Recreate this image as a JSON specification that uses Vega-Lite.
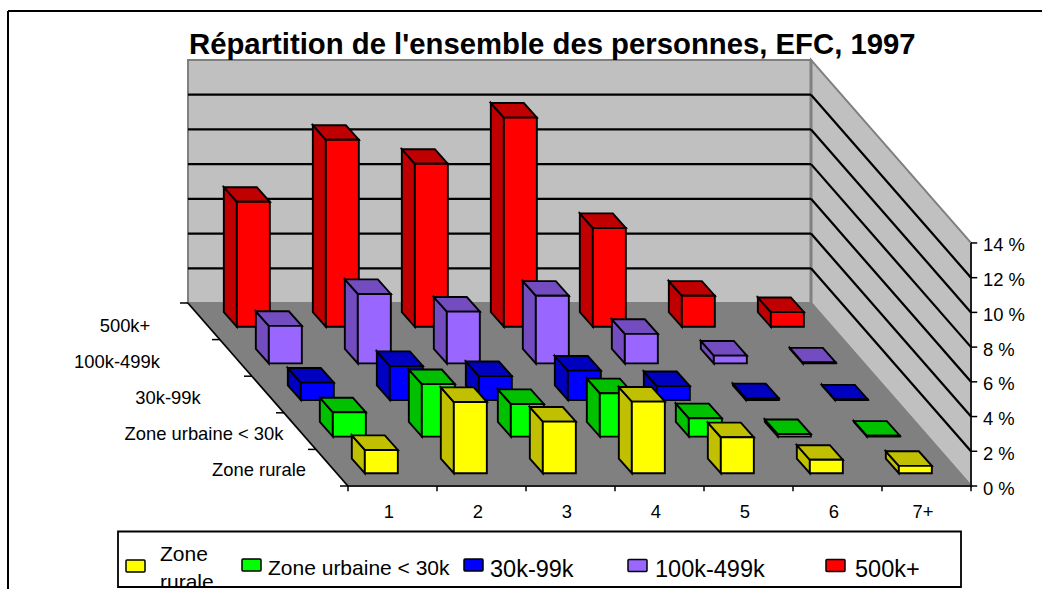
{
"$schema":"https://vega.github.io/schema/vega-lite/v6.json",
"width":1042,"height":589,"padding":0,"autosize":{"type":"none"},
"background":"white",
"title":{"text":"Répartition de l'ensemble des personnes, EFC, 1997","anchor":"start","frame":"group","dx":189,"dy":83,"offset":0,"baseline":"alphabetic","font":"Liberation Sans","fontWeight":"bold","fontSize":29.3,"color":"black"},
"config":{"view":{"stroke":null}},
"resolve":{"scale":{"fill":"independent"}},
"datasets":{
"bars":[
{"zone":"500k+","size":"1","pct":7.2},{"zone":"500k+","size":"2","pct":10.77},{"zone":"500k+","size":"3","pct":9.39},{"zone":"500k+","size":"4","pct":12.05},{"zone":"500k+","size":"5","pct":5.69},{"zone":"500k+","size":"6","pct":1.79},{"zone":"500k+","size":"7+","pct":0.85},
{"zone":"100k-499k","size":"1","pct":2.16},{"zone":"100k-499k","size":"2","pct":4.0},{"zone":"100k-499k","size":"3","pct":2.98},{"zone":"100k-499k","size":"4","pct":3.9},{"zone":"100k-499k","size":"5","pct":1.7},{"zone":"100k-499k","size":"6","pct":0.45},{"zone":"100k-499k","size":"7+","pct":0.05},
{"zone":"30k-99k","size":"1","pct":1.0},{"zone":"30k-99k","size":"2","pct":1.96},{"zone":"30k-99k","size":"3","pct":1.38},{"zone":"30k-99k","size":"4","pct":1.69},{"zone":"30k-99k","size":"5","pct":0.8},{"zone":"30k-99k","size":"6","pct":0.1},{"zone":"30k-99k","size":"7+","pct":0.03},
{"zone":"Zone urbaine < 30k","size":"1","pct":1.4},{"zone":"Zone urbaine < 30k","size":"2","pct":3.02},{"zone":"Zone urbaine < 30k","size":"3","pct":1.88},{"zone":"Zone urbaine < 30k","size":"4","pct":2.5},{"zone":"Zone urbaine < 30k","size":"5","pct":1.06},{"zone":"Zone urbaine < 30k","size":"6","pct":0.14},{"zone":"Zone urbaine < 30k","size":"7+","pct":0.05},
{"zone":"Zone rurale","size":"1","pct":1.34},{"zone":"Zone rurale","size":"2","pct":4.1},{"zone":"Zone rurale","size":"3","pct":2.97},{"zone":"Zone rurale","size":"4","pct":4.12},{"zone":"Zone rurale","size":"5","pct":2.07},{"zone":"Zone rurale","size":"6","pct":0.77},{"zone":"Zone rurale","size":"7+","pct":0.42}
],
"planes":[
{"plane":"wall","id":"back","cx":0,"d":5,"v":0,"d2":5,"v2":14},{"plane":"wall","id":"back","cx":7,"d":5,"v":0,"d2":5,"v2":14},
{"plane":"wall","id":"right","cx":7,"d":5,"v":0,"d2":5,"v2":14},{"plane":"wall","id":"right","cx":7,"d":0,"v":0,"d2":0,"v2":14},
{"plane":"floor","id":"floor","cx":0,"d":5,"v":0,"d2":5,"v2":0},{"plane":"floor","id":"floor","cx":0,"d":0,"v":0,"d2":5,"v2":0},{"plane":"floor","id":"floor","cx":5.2022,"d":0,"v":0,"d2":5,"v2":0},{"plane":"floor","id":"floor","cx":7,"d":0,"v":0,"d2":0,"v2":0}
],
"segments":[
{"kind":"seam","cx":7,"d":5,"v":0,"cx2":7,"d2":5,"v2":14},
{"kind":"grid","cx":0,"d":5,"v":2,"cx2":7,"d2":5,"v2":2},{"kind":"grid","cx":0,"d":5,"v":4,"cx2":7,"d2":5,"v2":4},{"kind":"grid","cx":0,"d":5,"v":6,"cx2":7,"d2":5,"v2":6},{"kind":"grid","cx":0,"d":5,"v":8,"cx2":7,"d2":5,"v2":8},{"kind":"grid","cx":0,"d":5,"v":10,"cx2":7,"d2":5,"v2":10},{"kind":"grid","cx":0,"d":5,"v":12,"cx2":7,"d2":5,"v2":12},
{"kind":"grid","cx":7,"d":5,"v":2,"cx2":7,"d2":0,"v2":2},{"kind":"grid","cx":7,"d":5,"v":4,"cx2":7,"d2":0,"v2":4},{"kind":"grid","cx":7,"d":5,"v":6,"cx2":7,"d2":0,"v2":6},{"kind":"grid","cx":7,"d":5,"v":8,"cx2":7,"d2":0,"v2":8},{"kind":"grid","cx":7,"d":5,"v":10,"cx2":7,"d2":0,"v2":10},{"kind":"grid","cx":7,"d":5,"v":12,"cx2":7,"d2":0,"v2":12},
{"kind":"axis","cx":7,"d":0,"v":0,"cx2":7,"d2":0,"v2":14},
{"kind":"axis","cx":7,"d":0,"v":0,"cx2":7.07,"d2":0,"v2":0},{"kind":"axis","cx":7,"d":0,"v":2,"cx2":7.07,"d2":0,"v2":2},{"kind":"axis","cx":7,"d":0,"v":4,"cx2":7.07,"d2":0,"v2":4},{"kind":"axis","cx":7,"d":0,"v":6,"cx2":7.07,"d2":0,"v2":6},{"kind":"axis","cx":7,"d":0,"v":8,"cx2":7.07,"d2":0,"v2":8},{"kind":"axis","cx":7,"d":0,"v":10,"cx2":7.07,"d2":0,"v2":10},{"kind":"axis","cx":7,"d":0,"v":12,"cx2":7.07,"d2":0,"v2":12},{"kind":"axis","cx":7,"d":0,"v":14,"cx2":7.07,"d2":0,"v2":14},
{"kind":"axis","cx":0,"d":0,"v":0,"cx2":7,"d2":0,"v2":0},
{"kind":"axis","cx":0,"d":0,"v":0,"cx2":0,"d2":0,"v2":-0.3},{"kind":"axis","cx":1,"d":0,"v":0,"cx2":1,"d2":0,"v2":-0.3},{"kind":"axis","cx":2,"d":0,"v":0,"cx2":2,"d2":0,"v2":-0.3},{"kind":"axis","cx":3,"d":0,"v":0,"cx2":3,"d2":0,"v2":-0.3},{"kind":"axis","cx":4,"d":0,"v":0,"cx2":4,"d2":0,"v2":-0.3},{"kind":"axis","cx":5,"d":0,"v":0,"cx2":5,"d2":0,"v2":-0.3},{"kind":"axis","cx":6,"d":0,"v":0,"cx2":6,"d2":0,"v2":-0.3},{"kind":"axis","cx":7,"d":0,"v":0,"cx2":7,"d2":0,"v2":-0.3},
{"kind":"axis","cx":0,"d":0,"v":0,"cx2":0,"d2":5,"v2":0},
{"kind":"axis","cx":0,"d":0,"v":0,"cx2":-0.09,"d2":0,"v2":0},{"kind":"axis","cx":0,"d":1,"v":0,"cx2":-0.09,"d2":1,"v2":0},{"kind":"axis","cx":0,"d":2,"v":0,"cx2":-0.09,"d2":2,"v2":0},{"kind":"axis","cx":0,"d":3,"v":0,"cx2":-0.09,"d2":3,"v2":0},{"kind":"axis","cx":0,"d":4,"v":0,"cx2":-0.09,"d2":4,"v2":0},{"kind":"axis","cx":0,"d":5,"v":0,"cx2":-0.09,"d2":5,"v2":0}
],
"ticks":[{"t":"0 %","v":0},{"t":"2 %","v":2},{"t":"4 %","v":4},{"t":"6 %","v":6},{"t":"8 %","v":8},{"t":"10 %","v":10},{"t":"12 %","v":12},{"t":"14 %","v":14}],
"sizes":[{"size":"1"},{"size":"2"},{"size":"3"},{"size":"4"},{"size":"5"},{"size":"6"},{"size":"7+"}],
"zones":[{"zone":"Zone rurale"},{"zone":"Zone urbaine < 30k"},{"zone":"30k-99k"},{"zone":"100k-499k"},{"zone":"500k+"}]
},
"layer":[
{"data":{"name":"planes"},
 "transform":[
  {"calculate":"348+89*datum.cx-32*datum.d","as":"px"},
  {"calculate":"486-36.6*datum.d-17.36*datum.v","as":"py"},
  {"calculate":"486-36.6*datum.d2-17.36*datum.v2","as":"py2"}],
 "mark":{"type":"area","stroke":"#808080","strokeWidth":2,"interpolate":"linear"},
 "encoding":{
  "x":{"field":"px","type":"quantitative","scale":{"domain":[0,1042],"range":[0,1042],"nice":false,"zero":false},"axis":null},
  "y":{"field":"py","type":"quantitative","scale":{"domain":[0,589],"range":[0,589],"nice":false,"zero":false},"axis":null,"stack":null},
  "y2":{"field":"py2"},
  "detail":{"field":"id"},
  "fill":{"field":"plane","scale":{"domain":["wall","floor"],"range":["#C0C0C0","#808080"]},"legend":null}}},
{"data":{"name":"segments"},
 "transform":[
  {"calculate":"348+89*datum.cx-32*datum.d","as":"px"},
  {"calculate":"486-36.6*datum.d-17.36*datum.v","as":"py"},
  {"calculate":"348+89*datum.cx2-32*datum.d2","as":"px2"},
  {"calculate":"486-36.6*datum.d2-17.36*datum.v2","as":"py2"}],
 "mark":{"type":"rule"},
 "encoding":{
  "x":{"field":"px","type":"quantitative"},"y":{"field":"py","type":"quantitative"},
  "x2":{"field":"px2"},"y2":{"field":"py2"},
  "stroke":{"field":"kind","scale":{"domain":["seam","grid","axis"],"range":["#808080","#000000","#000000"]},"legend":null},
  "strokeWidth":{"field":"kind","type":"nominal","scale":{"domain":["seam","grid","axis"],"range":[3,1.5,2]},"legend":null}}},
{"data":{"name":"bars"},
 "transform":[
  {"calculate":"indexof(['Zone rurale','Zone urbaine < 30k','30k-99k','100k-499k','500k+'],datum.zone)","as":"s"},
  {"calculate":"indexof(['1','2','3','4','5','6','7+'],datum.size)","as":"c"},
  {"calculate":"348+89*(datum.c+0.315)-32*(datum.s+0.35)","as":"x0"},
  {"calculate":"datum.x0+33","as":"x1"},
  {"calculate":"486-36.6*(datum.s+0.35)","as":"yb"},
  {"calculate":"datum.yb-17.36*datum.pct","as":"yt"},
  {"calculate":"[datum.x0-13,datum.x0,datum.x0-13,datum.x0,datum.x1-13,datum.x1,datum.x0,datum.x1]","as":"vx"},
  {"calculate":"[datum.yb-14.6,datum.yb,datum.yt-14.6,datum.yt,datum.yt,datum.yt,datum.yb,datum.yb]","as":"vy"},
  {"calculate":"[datum.yt-14.6,datum.yt,datum.yt-14.6,datum.yt-14.6,datum.yt-14.6,datum.yt,datum.yt,datum.yt]","as":"vy2"},
  {"calculate":"['side','side','top','top','top','top','front','front']","as":"vf"},
  {"flatten":["vx","vy","vy2","vf"],"as":["px","py","py2","face"]},
  {"calculate":"datum.zone+'|'+datum.size+'|'+datum.face","as":"faceId"},
  {"calculate":"datum.zone+'|'+(datum.face=='front'?'light':'dark')","as":"shade"}],
 "mark":{"type":"area","stroke":"#000000","strokeWidth":1.9,"strokeJoin":"miter","interpolate":"linear"},
 "encoding":{
  "x":{"field":"px","type":"quantitative"},
  "y":{"field":"py","type":"quantitative","stack":null},
  "y2":{"field":"py2"},
  "detail":{"field":"faceId"},
  "fill":{"field":"shade","scale":{"domain":["Zone rurale|light","Zone rurale|dark","Zone urbaine < 30k|light","Zone urbaine < 30k|dark","30k-99k|light","30k-99k|dark","100k-499k|light","100k-499k|dark","500k+|light","500k+|dark"],"range":["#FFFF00","#C0C000","#00FF00","#00C000","#0000FF","#0000C0","#9966FF","#734DC0","#FF0000","#C00000"]},"legend":null}}},
{"data":{"name":"ticks"},
 "transform":[
  {"calculate":"348+89*7.135-32*0","as":"px"},
  {"calculate":"486+2.5-17.36*datum.v","as":"py"}],
 "mark":{"type":"text","align":"left","baseline":"middle","font":"Liberation Sans","fontSize":18.4,"color":"black"},
 "encoding":{"x":{"field":"px","type":"quantitative"},"y":{"field":"py","type":"quantitative"},"text":{"field":"t"}}},
{"data":{"name":"sizes"},
 "transform":[
  {"calculate":"indexof(['1','2','3','4','5','6','7+'],datum.size)","as":"c"},
  {"calculate":"348+89*(datum.c+0.46)","as":"px"},
  {"calculate":"486+17.36*1.48","as":"py"}],
 "mark":{"type":"text","align":"center","baseline":"middle","font":"Liberation Sans","fontSize":18.4,"color":"black"},
 "encoding":{"x":{"field":"px","type":"quantitative"},"y":{"field":"py","type":"quantitative"},"text":{"field":"size"}}},
{"data":{"name":"zones"},
 "transform":[
  {"calculate":"indexof(['Zone rurale','Zone urbaine < 30k','30k-99k','100k-499k','500k+'],datum.zone)","as":"s"},
  {"calculate":"[259,204,168,117,125][datum.s]","as":"px"},
  {"calculate":"470-36*datum.s","as":"py"}],
 "mark":{"type":"text","align":"center","baseline":"middle","font":"Liberation Sans","fontSize":18.4,"color":"black"},
 "encoding":{"x":{"field":"px","type":"quantitative"},"y":{"field":"py","type":"quantitative"},"text":{"field":"zone"}}},
{"data":{"values":[{"frame":"outer"}]},
 "mark":{"type":"rule","stroke":"#000000","strokeWidth":2},
 "encoding":{"x":{"datum":8},"x2":{"datum":1042},"y":{"datum":11}}},
{"data":{"values":[{"frame":"outer"}]},
 "mark":{"type":"rule","stroke":"#000000","strokeWidth":2},
 "encoding":{"x":{"datum":8},"y":{"datum":11},"y2":{"datum":589}}},
{"data":{"values":[{"frame":"legend"}]},
 "mark":{"type":"rect","fill":"white","stroke":"#000000","strokeWidth":1.8},
 "encoding":{"x":{"datum":118},"x2":{"datum":961},"y":{"datum":531.5},"y2":{"datum":587}}},
{"data":{"name":"zones"},
 "transform":[
  {"calculate":"indexof(['Zone rurale','Zone urbaine < 30k','30k-99k','100k-499k','500k+'],datum.zone)","as":"s"},
  {"calculate":"[126,242,464,628,826][datum.s]","as":"sx"},
  {"calculate":"datum.sx+19","as":"sx2"},
  {"calculate":"[560,559,559,559.5,559.5][datum.s]","as":"sy"},
  {"calculate":"datum.sy+12","as":"sy2"}],
 "mark":{"type":"rect","stroke":"#000000","strokeWidth":1.5,"cornerRadius":1},
 "encoding":{"x":{"field":"sx","type":"quantitative"},"x2":{"field":"sx2"},"y":{"field":"sy","type":"quantitative"},"y2":{"field":"sy2"},
  "fill":{"field":"zone","scale":{"domain":["Zone rurale","Zone urbaine < 30k","30k-99k","100k-499k","500k+"],"range":["#FFFF00","#00FF00","#0000FF","#9966FF","#FF0000"]},"legend":null}}},
{"data":{"values":[{"lab":"Zone","slot":0},{"lab":"rurale","slot":1},{"lab":"Zone urbaine < 30k","slot":2},{"lab":"30k-99k","slot":3},{"lab":"100k-499k","slot":4},{"lab":"500k+","slot":5}]},
 "transform":[
  {"calculate":"[160,160,268,490,655,855][datum.slot]","as":"px"},
  {"calculate":"[555,583,569,570,570,570][datum.slot]","as":"py"},
  {"calculate":"[21,21,21,23.5,23.5,23.5][datum.slot]","as":"fs"}],
 "mark":{"type":"text","align":"left","baseline":"middle","font":"Liberation Sans","color":"black"},
 "encoding":{"x":{"field":"px","type":"quantitative"},"y":{"field":"py","type":"quantitative"},"text":{"field":"lab"},"size":{"field":"fs","type":"quantitative","scale":null}}},
{"data":{"values":[{"frame":"legendclip"}]},
 "mark":{"type":"rect","fill":"white"},
 "encoding":{"x":{"datum":150},"x2":{"datum":230},"y":{"datum":587},"y2":{"datum":589}}},
{"data":{"values":[{"frame":"legendbottom"}]},
 "mark":{"type":"rule","stroke":"#000000","strokeWidth":1.8},
 "encoding":{"x":{"datum":118},"x2":{"datum":961},"y":{"datum":587}}}
]
}
